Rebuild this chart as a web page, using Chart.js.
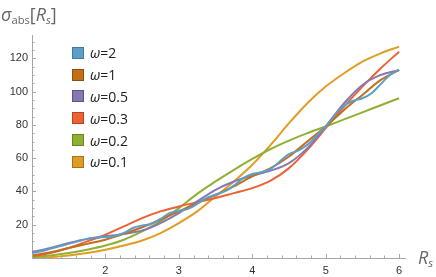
<!DOCTYPE html>
<html>
<head>
<meta charset="utf-8">
<script src="https://cdn.jsdelivr.net/npm/chart.js@4/dist/chart.umd.min.js"></script>
<style>
  html, body { margin: 0; padding: 0; background: #fff; }
  #wrap { position: relative; width: 436px; height: 277px; overflow: hidden; }
  #wrap canvas { position: absolute; left: 0; top: 0; }
  .axis-title { position: absolute; color: #666; font-family: "Open Sans", "DejaVu Sans", sans-serif; white-space: nowrap; }
  .axis-title sub { font-size: 0.62em; vertical-align: -0.3em; }
  #ytitle { left: 1px; top: 2px; font-size: 18px; }
  #xtitle { left: 418px; top: 245px; font-size: 18px; }
  #legend { position: absolute; left: 72px; top: 42px; font-family: "Open Sans", "DejaVu Sans", sans-serif; font-size: 14px; color: #222; }
  #legend .row { height: 21.8px; display: flex; align-items: center; }
  #legend .sw { width: 10px; height: 10px; border: 1px solid; margin-right: 6px; }
</style>
</head>
<body>
<div id="wrap">
  <canvas id="chart" width="436" height="277"></canvas>
  <div class="axis-title" id="ytitle"><i>σ</i><sub>abs</sub>[<i>R<sub>s</sub></i>]</div>
  <div class="axis-title" id="xtitle"><i>R<sub>s</sub></i></div>
  <div id="legend"></div>
</div>
<script>
// R_s grids (the ω=2 curve wiggles, so it gets a finer one)
const rs = [1, 1.25, 1.5, 1.75, 2, 2.25, 2.5, 2.75, 3, 3.25, 3.5, 3.75, 4, 4.25, 4.5, 4.75, 5, 5.25, 5.5, 5.75, 6];
const rsFine = [1, 1.125, 1.25, 1.375, 1.5, 1.625, 1.75, 1.875, 2, 2.125, 2.25, 2.375, 2.5, 2.625, 2.75, 2.875,
  3, 3.125, 3.25, 3.375, 3.5, 3.625, 3.75, 3.875, 4, 4.125, 4.25, 4.375, 4.5, 4.625, 4.75, 4.875,
  5, 5.125, 5.25, 5.375, 5.5, 5.625, 5.75, 5.875, 6];

// sigma_abs for each omega
const sigmaW2   = [3, 4, 5.5, 7, 8.5, 10, 11.5, 12.3, 12.6, 13.2, 15, 18, 19.5, 20.5, 23.5, 27,
  28.3, 29.5, 32.5, 36, 38, 40, 43.5, 48, 50.5, 51.5, 53.5, 58, 62.5, 64.5, 68, 73.5,
  79, 86, 91.5, 94.5, 96, 99, 104.5, 110, 113];
const sigmaW1   = [1.5, 3.5, 6, 8.5, 11, 14.5, 18.5, 23, 28, 33, 38, 43, 49, 54, 61, 70, 79, 89, 98, 107, 113];
const sigmaW05  = [3.5, 6, 9, 11.5, 13, 14.5, 16.5, 21, 27, 34, 41, 46, 49.5, 52.5, 57, 66, 79, 93, 104, 110, 113];
const sigmaW03  = [1, 3, 6, 10, 14, 19, 24, 28, 31, 33.5, 36, 39, 42, 46.5, 54, 65, 78, 91, 103, 114, 124];
const sigmaW02  = [0.5, 1.5, 3, 5, 7.5, 11, 16, 22, 30, 38.5, 46, 53, 59.5, 65.5, 70.5, 75, 79, 83.3, 87.5, 91.8, 96];
const sigmaW01  = [0, 0.5, 1.5, 3, 5, 7.5, 10.5, 15, 21, 28, 37, 46, 56, 68, 81, 93, 103, 111, 118, 123, 127];

const omegas = ['2', '1', '0.5', '0.3', '0.2', '0.1'];
const series = [sigmaW2, sigmaW1, sigmaW05, sigmaW03, sigmaW02, sigmaW01];
const grids = [rsFine, rs, rs, rs, rs, rs];
const colors = ['#5D9EC7', '#C56E1A', '#8778B3', '#EB6235', '#8FB032', '#E19C24'];
const borders = ['#3f7aa0', '#8f4d10', '#5f5290', '#b8431f', '#6a8623', '#a87014'];

const xTicks = [2, 3, 4, 5, 6];
const yTicks = [20, 40, 60, 80, 100, 120];

const axisColor = '#a6a6a6';

// ticks pointing into the plot, like the original
const innerTicks = {
  id: 'innerTicks',
  afterDraw(chart) {
    const ctx = chart.ctx;
    const x = chart.scales.x, y = chart.scales.y;
    ctx.save();
    ctx.strokeStyle = axisColor;
    ctx.lineWidth = 1;
    ctx.beginPath();
    for (let v = 1; v <= 6.05; v += 0.2) {
      const px = Math.round(x.getPixelForValue(v)) + 0.5;
      const major = Math.abs(v - Math.round(v)) < 0.01;
      const len = major ? 4 : 2.5;
      ctx.moveTo(px, y.bottom);
      ctx.lineTo(px, y.bottom - len);
    }
    for (let v = 0; v <= 130; v += 5) {
      const py = Math.round(y.getPixelForValue(v)) + 0.5;
      const len = v % 20 === 0 ? 4 : 2.5;
      ctx.moveTo(x.left, py);
      ctx.lineTo(x.left + len, py);
    }
    ctx.stroke();
    ctx.restore();
  }
};

const datasets = series.map((s, i) => ({
  label: 'ω=' + omegas[i],
  data: grids[i].map((r, j) => ({ x: r, y: s[j] })),
  borderColor: colors[i],
  backgroundColor: colors[i],
  borderWidth: 2,
  pointRadius: 0,
  cubicInterpolationMode: 'monotone',
  fill: false
}));

const tickFont = { family: 'Liberation Sans', size: 11 };

new Chart(document.getElementById('chart'), {
  type: 'line',
  data: { datasets },
  plugins: [innerTicks],
  options: {
    responsive: false,
    animation: false,
    events: [],
    layout: { padding: { top: 35, right: 31, left: 0, bottom: 0 } },
    plugins: { legend: { display: false }, tooltip: { enabled: false } },
    scales: {
      x: {
        type: 'linear',
        min: 1,
        max: 6.08,
        afterBuildTicks: s => { s.ticks = xTicks.map(v => ({ value: v })); },
        afterFit: s => { s.height = 19; },
        grid: { display: false, drawTicks: false },
        border: { display: true, color: axisColor, width: 1 },
        ticks: { color: '#333', padding: 6, font: tickFont }
      },
      y: {
        type: 'linear',
        min: 0,
        max: 134,
        afterBuildTicks: s => { s.ticks = yTicks.map(v => ({ value: v })); },
        afterFit: s => { s.width = 32; },
        grid: { display: false, drawTicks: false },
        border: { display: true, color: axisColor, width: 1 },
        ticks: { color: '#333', padding: 4, font: tickFont }
      }
    }
  }
});

// legend
const legend = document.getElementById('legend');
omegas.forEach((w, i) => {
  const row = document.createElement('div');
  row.className = 'row';
  row.innerHTML = `<span class="sw" style="background:${colors[i]};border-color:${borders[i]}"></span><span><i>ω</i>=${w}</span>`;
  legend.appendChild(row);
});
</script>
</body>
</html>
